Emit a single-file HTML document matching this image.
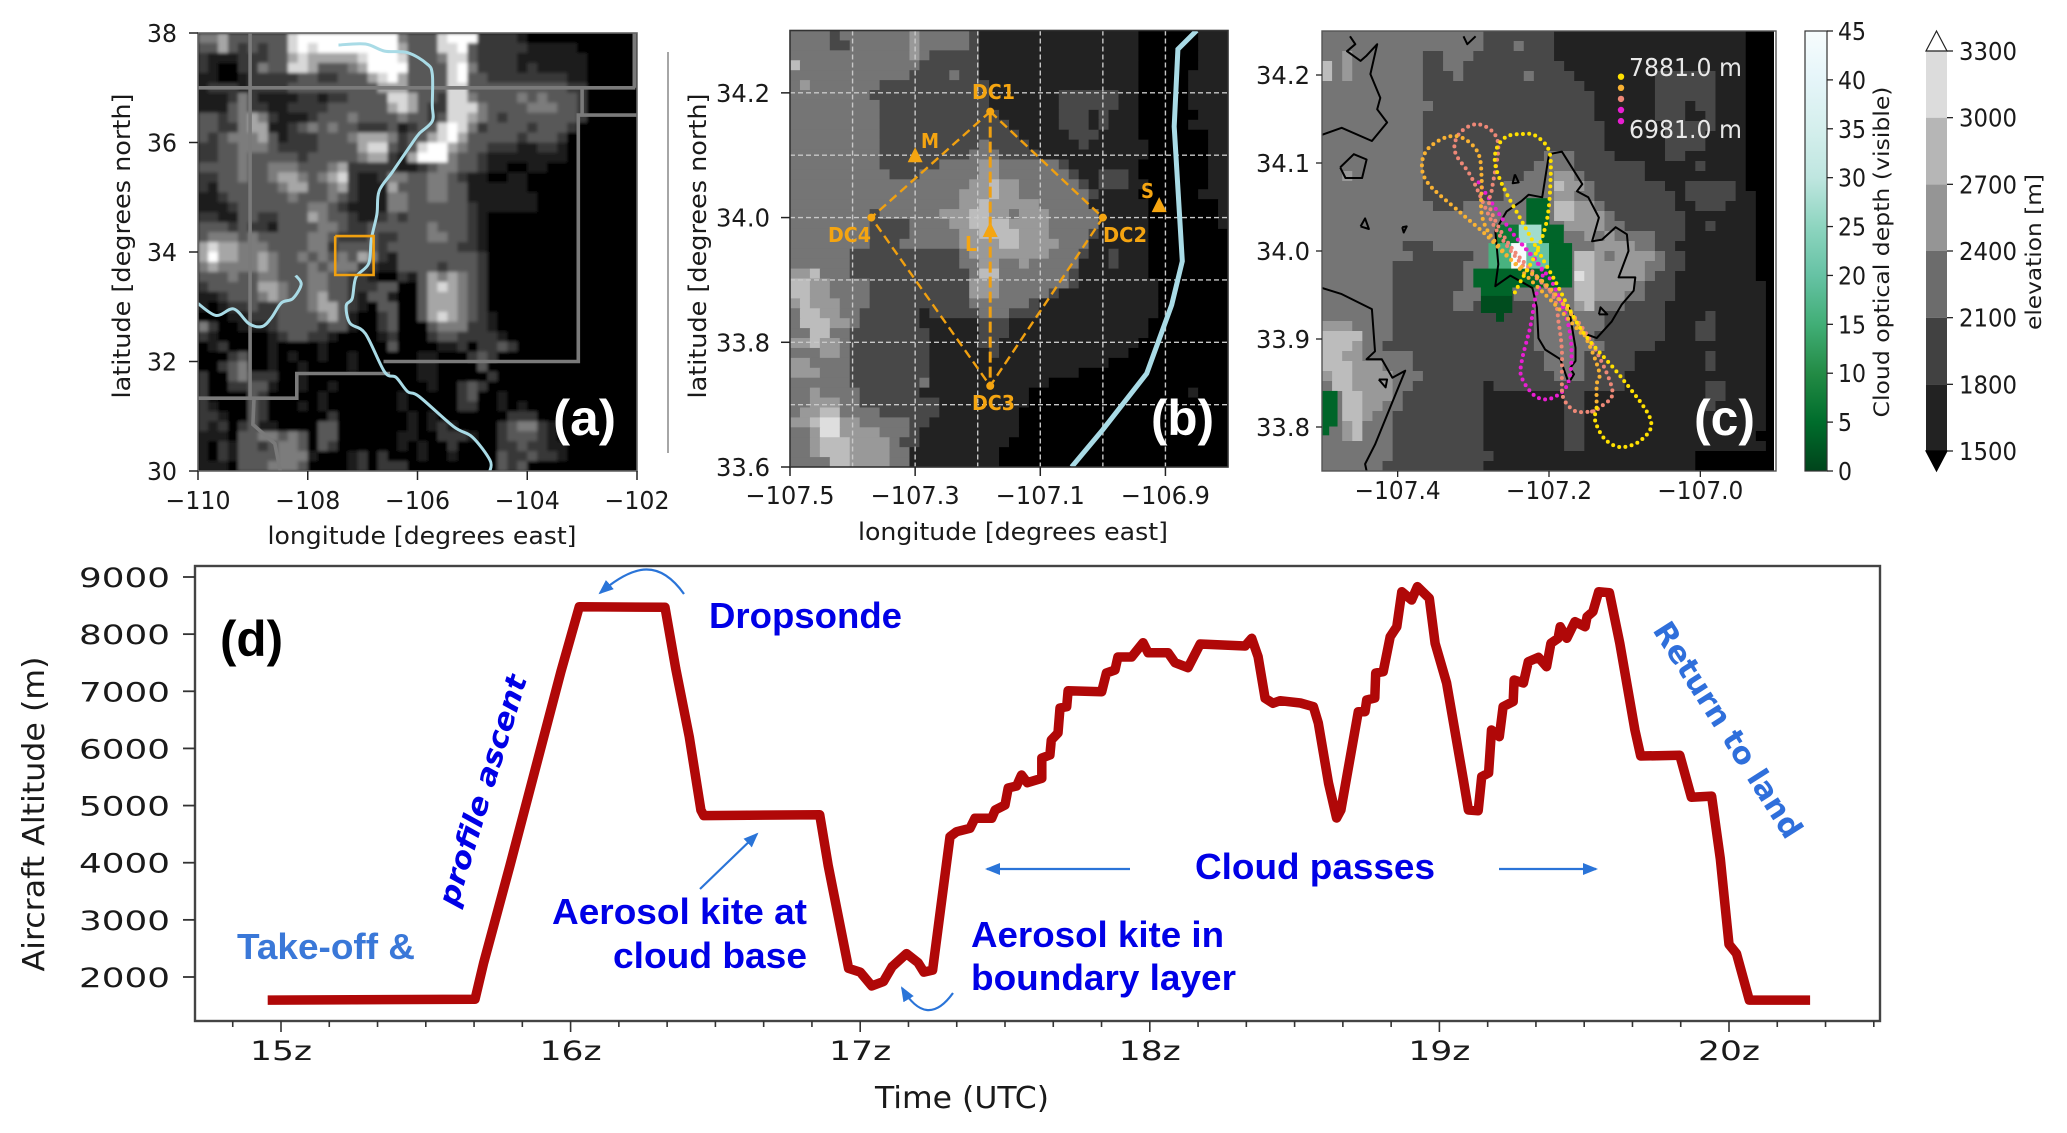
<!DOCTYPE html>
<html lang="en">
<head>
<meta charset="utf-8">
<title>Flight overview figure</title>
<style>
html,body{margin:0;padding:0;background:#fff;width:2067px;height:1133px;overflow:hidden}
svg{display:block}
text{font-family:"DejaVu Sans","Liberation Sans",sans-serif;fill:#1a1a1a}
.lib{font-family:"Liberation Sans",sans-serif;font-weight:bold}
</style>
</head>
<body>
<svg id="fig" xmlns="http://www.w3.org/2000/svg" width="2067" height="1133" viewBox="0 0 2067 1133">
  <defs>
    <clipPath id="clipA"><rect x="198" y="33" width="439" height="438"/></clipPath>
    <clipPath id="clipB"><rect x="790" y="30.5" width="438" height="436.5"/></clipPath>
    <clipPath id="clipC"><rect x="1322" y="31" width="454" height="440"/></clipPath>
    <filter id="soft" x="-5%" y="-5%" width="110%" height="110%"><feGaussianBlur stdDeviation="1.6"/></filter>
    <linearGradient id="cloudGrad" x1="0" y1="1" x2="0" y2="0">
      <stop offset="0" stop-color="#00441b"/><stop offset="0.111" stop-color="#006d2c"/>
      <stop offset="0.222" stop-color="#238b45"/><stop offset="0.333" stop-color="#41ae76"/>
      <stop offset="0.444" stop-color="#66c2a4"/><stop offset="0.556" stop-color="#8ed5c0"/>
      <stop offset="0.667" stop-color="#bfe6e0"/><stop offset="0.778" stop-color="#d5efed"/>
      <stop offset="0.889" stop-color="#e5f5f9"/><stop offset="1" stop-color="#f7fcfd"/>
    </linearGradient>
    <marker id="arrowBlue" markerWidth="16" markerHeight="14" refX="13" refY="6" orient="auto" markerUnits="userSpaceOnUse"><path d="M0,0 L15,6 L0,12 Z" fill="#2a74d8"/></marker>
  </defs>

  <g id="panelA"></g>
  <g id="panelB"></g>
  <g id="panelC"></g>
  <g id="bars"></g>
  <g id="panelD"></g>

  <line x1="668" y1="52" x2="668" y2="453" stroke="#888" stroke-width="1.5"/>

  <text x="422" y="544" text-anchor="middle" font-size="24" textLength="309" lengthAdjust="spacingAndGlyphs">longitude [degrees east]</text>
  <text transform="translate(130,246) rotate(-90)" text-anchor="middle" font-size="24" textLength="305" lengthAdjust="spacingAndGlyphs">latitude [degrees north]</text>
  <text x="1013" y="540" text-anchor="middle" font-size="24" textLength="310" lengthAdjust="spacingAndGlyphs">longitude [degrees east]</text>
  <text transform="translate(706,246) rotate(-90)" text-anchor="middle" font-size="24" textLength="305" lengthAdjust="spacingAndGlyphs">latitude [degrees north]</text>
  <text transform="translate(1889,252) rotate(-90)" text-anchor="middle" font-size="21" textLength="331" lengthAdjust="spacingAndGlyphs">Cloud optical depth (visible)</text>
  <text transform="translate(2041,252) rotate(-90)" text-anchor="middle" font-size="21" textLength="156" lengthAdjust="spacingAndGlyphs">elevation [m]</text>

  <text class="lib" x="553" y="435" font-size="50" style="fill:#fff" textLength="63" lengthAdjust="spacingAndGlyphs">(a)</text>
  <text class="lib" x="1151" y="435" font-size="50" style="fill:#fff" textLength="63" lengthAdjust="spacingAndGlyphs">(b)</text>
  <text class="lib" x="1694" y="435" font-size="50" style="fill:#fff" textLength="61" lengthAdjust="spacingAndGlyphs">(c)</text>

  <text transform="translate(44,814) rotate(-90)" text-anchor="middle" font-size="30" textLength="315" lengthAdjust="spacingAndGlyphs">Aircraft Altitude (m)</text>
  <text x="875" y="1108" font-size="30" textLength="174" lengthAdjust="spacingAndGlyphs">Time (UTC)</text>
  <text class="lib" x="220" y="656" font-size="50" style="fill:#000" textLength="63" lengthAdjust="spacingAndGlyphs">(d)</text>

  <text class="lib" x="709" y="628" font-size="36" style="fill:#0000e6" textLength="193" lengthAdjust="spacingAndGlyphs">Dropsonde</text>
  <text class="lib" x="237" y="959" font-size="36" style="fill:#3a78d8" textLength="178" lengthAdjust="spacingAndGlyphs">Take-off &amp;</text>
  <text class="lib" x="552" y="924" font-size="36" style="fill:#0000e6" textLength="255" lengthAdjust="spacingAndGlyphs">Aerosol kite at</text>
  <text class="lib" x="613" y="968" font-size="36" style="fill:#0000e6" textLength="194" lengthAdjust="spacingAndGlyphs">cloud base</text>
  <text class="lib" x="971" y="947" font-size="36" style="fill:#0000e6" textLength="253" lengthAdjust="spacingAndGlyphs">Aerosol kite in</text>
  <text class="lib" x="971" y="990" font-size="36" style="fill:#0000e6" textLength="265" lengthAdjust="spacingAndGlyphs">boundary layer</text>
  <text class="lib" x="1195" y="879" font-size="36" style="fill:#0000e6" textLength="240" lengthAdjust="spacingAndGlyphs">Cloud passes</text>
  <text transform="translate(457,908) rotate(-73)" font-size="29" font-weight="bold" font-style="italic" style="fill:#0000e6" textLength="240" lengthAdjust="spacingAndGlyphs">profile ascent</text>
  <text transform="translate(1652,630) rotate(57.5)" font-size="30" font-weight="bold" style="fill:#2f6fdb" textLength="250" lengthAdjust="spacingAndGlyphs">Return to land</text>

  <path d="M684,594 C660,560 635,563 600,593" fill="none" stroke="#2a74d8" stroke-width="2.2" marker-end="url(#arrowBlue)"/>
  <line x1="700" y1="889" x2="757" y2="834" stroke="#2a74d8" stroke-width="2.2" marker-end="url(#arrowBlue)"/>
  <path d="M953,993 C935,1018 918,1015 902,988" fill="none" stroke="#2a74d8" stroke-width="2.2" marker-end="url(#arrowBlue)"/>
  <line x1="1130" y1="869" x2="987" y2="869" stroke="#2a74d8" stroke-width="2.2" marker-end="url(#arrowBlue)"/>
  <line x1="1499" y1="869" x2="1596" y2="869" stroke="#2a74d8" stroke-width="2.2" marker-end="url(#arrowBlue)"/>
</svg>

<script>
/* ---------- chart data ---------- */
const flightHours = [14.954,15.67,15.70,15.79,15.967,16.03,16.326,16.363,16.41,16.45,16.46,16.86,16.89,16.96,17.0,17.04,17.08,17.11,17.16,17.2,17.22,17.25,
17.31,17.333,17.379,17.396,17.454,17.466,17.50,17.511,17.54,17.557,
17.577,17.627,17.627,17.655,17.66,17.683,17.69,17.713,17.718,17.834,
17.85,17.88,17.89,17.937,17.977,17.994,18.063,18.087,18.132,18.174,
18.329,18.352,18.374,18.398,18.425,18.45,18.52,18.565,18.582,18.617,
18.645,18.66,18.72,18.743,18.749,18.777,18.78,18.806,18.83,18.853,
18.87,18.904,18.924,18.965,18.985,19.025,19.083,19.10,19.134,19.146,
19.17,19.18,19.207,19.22,19.255,19.258,19.29,19.307,19.342,19.37,
19.385,19.41,19.417,19.44,19.468,19.503,19.51,19.53,19.55,19.587,
19.623,19.675,19.695,19.83,19.87,19.94,19.97,20.0,20.026,20.07,20.28];
const flightAltitude = [1596,1610,2250,3940,7350,8480,8470,7400,6200,4920,4825,4840,3940,2150,2085,1845,1920,2180,2410,2250,2085,2120,
4455,4543,4602,4777,4777,4922,5010,5307,5342,5535,
5400,5477,5830,5885,6148,6270,6708,6730,7010,6993,
7320,7372,7600,7600,7850,7675,7675,7500,7413,7828,
7793,7927,7605,6877,6790,6835,6795,6730,6445,5395,
4782,4922,6643,6643,6848,6883,7320,7342,7955,8130,
8743,8598,8830,8627,7840,7145,5448,4922,4910,5505,
5570,6322,6205,6730,6822,7198,7145,7518,7595,7430,
7840,7927,8130,7927,8218,8130,8305,8393,8743,8725,
7840,6322,5868,5880,5145,5165,4070,2570,2410,1595,1595];
const altitudeTicks = [2000,3000,4000,5000,6000,7000,8000,9000];
const hourTicks = [15,16,17,18,19,20];

const latTicksA = [30,32,34,36,38];
const lonTicksA = [-110,-108,-106,-104,-102];
const latTicksB = [33.6,33.8,34.0,34.2];
const lonTicksB = [-107.5,-107.3,-107.1,-106.9];
const gridLatB = [33.7,33.8,33.9,34.0,34.1,34.2];
const gridLonB = [-107.4,-107.3,-107.2,-107.1,-107.0,-106.9];
const latTicksC = [33.8,33.9,34.0,34.1,34.2];
const lonTicksC = [-107.4,-107.2,-107.0];
const cloudTicks = [0,5,10,15,20,25,30,35,40,45];
const elevationTicks = [1500,1800,2100,2400,2700,3000,3300];

const terrainA = [
"44533 33336 77777 77777 43336 77722 22100",
"33532 32336 76777 77777 53336 67322 22211 11100",
"21112 22335 65555 56777 63334 66322 22111 11110",
"21002 24336 65333 45777 73333 67422 22121 11110",
"11001 22222 33223 33567 53333 67332 22222 22110",
"12221 22223 33333 33355 53333 66333 33333 33220",
"11124 21111 22122 33336 65332 66433 33434 33320",
"11134 22112 22233 33335 65322 66643 33344 43320",
"33234 54211 12333 43333 43323 66543 23333 33320",
"33224 55112 34343 32223 12336 76423 33323 33200",
"32344 45312 22333 45554 23356 75333 33233 32000",
"22334 44322 22333 35663 23677 54332 22112 21000",
"22334 33333 23333 34552 15777 43321 11111 11000",
"33334 33444 33345 22222 11234 43321 10011",
"22334 33455 43456 21124 43344 32110 01100",
"21333 33345 53345 21115 33344 33111 11100",
"11233 33334 33343 21114 43344 33111 11110",
"11123 33333 34432 11114 43333 33211 11110",
"22113 32233 35433 21123 23333 33210",
"33323 22133 33443 22333 33343 33210",
"34443 43333 34432 22322 33344 33210",
"56554 44333 34423 33323 33333 32210",
"57554 45433 43434 35421 33333 33320",
"45444 45433 34344 42211 33332 33320",
"33343 34433 34433 22100 21354 54320",
"23333 35543 34433 22233 00356 54320",
"11233 34543 34533 21331 00355 54320",
"10122 32233 34553 21033 00355 54320",
"00011 22233 33453 10023 00356 54321",
"42001 11233 33233 10023 00034 44221",
"21000 00123 32210 00012 00023 32222 10000",
"01200 00100 00100 00003 00001 12022 32000",
"00023 00101 00100 10000 00110 00232",
"00234 00100 10000 10000 00110 00030",
"20034 22200 10000 00000 00110 00002",
"20022 33100 10010 00000 00010 02320",
"20000 32000 00100 00000 10000 02300 10000",
"21000 32000 10100 00000 10000 02200 10100",
"22100 32000 00020 00000 01010 00000 02220",
"21202 31100 00330 00000 01012 10000 23442 10000",
"11103 34434 30330 00000 11002 22100 23332 10000",
"10213 32344 30320 00000 10100 20000 22322 11000",
"10213 33344 41000 12020 00100 10000 32232 21000",
"11103 33444 30000 12022 20000 00000 32300"];

/* band changes across each row, written as startColumn:band */
const terrainB = [
"0:3 4:2 5:3 12:4 13:3 18:2 19:1 35:0 41:1","0:3 4:2 6:3 12:4 13:3 18:2 19:1 35:0 41:1","0:3 12:4 13:3 14:2 19:1 35:0 41:1","0:5 1:3 13:2 19:1 35:0 41:1",
"0:3 12:2 16:3 17:2 19:1 35:0 40:1","0:3 1:4 2:3 9:2 20:1 35:0 40:1","0:3 8:2 20:1 27:2 33:1 35:0 40:1","0:3 9:2 20:1 27:2 33:1 35:0 40:1",
"0:3 9:2 21:1 27:2 30:1 31:2 32:1 35:0 41:1","0:3 9:2 22:1 27:2 30:1 31:2 32:1 35:0 40:1","0:3 9:2 23:1 28:2 31:1 35:0 42:1","0:3 9:2 19:3 20:2 24:1 29:2 30:1 36:0 42:1",
"0:3 9:2 18:3 21:2 25:1 36:0 42:1","0:3 9:2 15:3 19:4 21:3 27:2 28:1 35:0 42:1","0:3 10:2 13:3 19:4 21:3 28:2 29:1 31:2 34:1 35:0 42:1","0:3 18:4 20:5 21:4 23:3 29:2 30:1 31:2 34:1 36:0 42:1",
"0:3 17:4 20:5 21:4 23:3 30:2 31:1 35:0 41:1","0:3 17:4 19:5 20:4 25:3 30:1 36:0 43:1","0:3 8:2 9:3 15:4 18:5 20:4 22:3 23:4 26:3 31:1 36:0 43:1","0:3 8:2 12:3 16:4 18:5 22:4 26:3 31:1 36:0 43:1",
"0:3 8:2 12:3 17:4 19:5 23:4 26:3 30:2 31:1 36:0","0:3 8:2 11:3 17:4 21:5 23:4 27:3 30:1 36:0","0:3 6:2 17:3 18:4 26:3 29:2 30:1 32:2 33:1 36:0","0:3 6:2 17:3 19:4 21:3 23:4 24:3 29:1 32:2 33:1 36:0",
"0:4 2:5 3:3 6:2 18:3 19:5 21:3 28:2 29:1 36:0","0:5 2:4 4:3 8:2 18:4 21:3 28:2 29:1 37:0","0:5 2:4 4:3 8:2 18:4 21:3 26:2 27:1 37:0","0:4 1:5 2:4 5:3 8:2 18:3 24:2 25:1 37:0",
"0:3 1:5 3:4 5:3 7:2 13:1 14:2 19:3 22:2 25:1 37:0","0:3 1:5 4:4 6:3 7:2 13:1 19:2 22:1 36:0","0:3 2:5 4:3 6:2 14:1 19:2 22:1 36:0","0:4 2:5 3:4 5:3 6:2 14:1 19:2 21:1 35:0",
"0:3 3:4 5:3 6:2 14:1 20:2 21:1 34:0","0:4 2:3 6:2 14:1 32:0","0:4 3:3 6:2 14:1 29:0","0:3 6:2 13:3 14:1 26:0",
"0:3 2:4 3:3 7:2 13:1 24:0 40:1 41:0","0:3 2:4 5:3 7:2 15:1 24:0","0:3 1:4 3:5 5:3 9:2 15:1 23:0","0:4 2:5 3:6 5:4 7:3 12:2 14:1 23:0",
"0:3 2:4 3:6 5:4 9:3 12:2 13:1 23:0","0:3 2:4 3:5 6:4 10:3 11:2 13:1 22:0","0:3 2:4 3:5 6:4 10:3 12:1 21:0","0:3 4:5 6:4 10:3 12:1 21:0"];
const terrainC = [
"0:3 16:2 23:1 42:0","0:3 16:2 19:3 20:2 23:1 42:0","0:3 2:4 3:3 10:2 12:3 15:2 23:1 42:0","0:5 1:3 2:4 3:3 10:2 12:3 14:2 24:1 42:0",
"0:5 1:3 2:4 3:3 10:2 13:3 14:2 20:3 21:2 25:1 33:2 39:1 42:0","0:3 10:2 26:1 33:2 39:1 42:0","0:3 10:2 27:1 33:2 39:1 42:0","0:3 11:2 27:1 33:2 36:1 37:2 39:1 42:0",
"0:3 10:2 27:1 33:2 36:1 38:2 39:1 42:0","0:3 10:2 28:1 34:2 39:1 42:0","0:3 10:2 28:1 34:2 38:1 42:0","0:3 10:2 28:1 34:2 38:1 42:0",
"0:3 10:2 22:3 25:2 29:1 34:2 36:1 42:0","0:3 10:2 21:3 25:2 32:1 37:2 38:1 42:0","0:3 2:4 3:3 10:2 20:3 23:4 25:3 26:2 32:1 42:0","0:3 10:2 18:3 23:5 24:4 26:3 27:2 34:1 36:2 41:1 42:0",
"0:3 10:2 18:3 23:4 25:3 27:2 35:1 36:2 41:1 43:0","0:3 11:2 14:3 23:5 25:4 27:3 28:2 35:1 37:2 40:1 43:0","0:3 23:5 25:4 28:3 29:2 36:1 43:0","0:3 24:4 28:3 30:2 36:1 38:2 39:1 43:0",
"0:3 26:4 27:3 28:4 29:3 33:2 36:1 43:0","0:3 8:2 11:3 27:4 31:3 33:2 35:1 43:0","0:3 9:2 15:3 25:5 27:4 28:3 29:4 33:3 34:2 36:1 43:0","0:3 7:2 14:3 25:5 27:4 32:3 34:2 36:1 43:0",
"0:3 7:2 14:3 25:6 26:5 27:4 32:3 33:2 35:1 43:0","0:3 7:2 14:3 25:5 27:4 31:3 32:2 35:1 44:0","0:3 7:2 13:3 16:2 19:3 25:5 27:4 30:3 32:2 35:1 44:0","0:3 7:2 13:3 15:2 21:3 25:4 26:5 27:3 30:2 34:1 44:0",
"0:3 7:2 21:3 28:2 34:1 38:2 39:1 44:0","0:4 3:3 7:2 21:3 28:2 34:1 37:2 39:1 44:0","0:5 4:3 7:2 21:3 27:2 34:1 37:2 39:1 44:0","0:5 3:4 4:3 6:2 21:3 28:2 33:1 44:0",
"0:5 2:4 4:3 9:2 22:3 26:2 31:1 38:2 39:1 44:0","0:5 3:4 6:3 9:2 22:3 26:2 31:1 38:2 39:1 44:0","0:4 1:5 3:4 7:3 10:2 23:3 26:2 30:1 44:0","0:3 1:5 3:4 7:3 9:2 16:1 17:2 30:1 38:2 40:1 44:0",
"0:3 2:5 4:4 7:3 8:2 16:1 24:2 26:1 38:2 40:1 44:0","0:3 2:5 4:4 6:3 8:2 16:1 24:2 26:1 38:2 39:1 44:0","0:3 2:5 4:4 5:3 7:2 16:1 24:2 26:1 44:0","0:3 2:4 3:5 4:3 7:2 16:1 24:2 26:1 44:0",
"0:3 2:4 3:5 4:3 7:2 16:1 24:2 26:1 43:0","0:3 7:2 16:1 24:2 26:1 44:0","0:3 7:2 17:1 37:0","0:3 6:2 16:1 37:0"];

/* cloud optical depth blocks: west lon, east lon, north lat, south lat, depth */
const cloudWest = [-107.23,-107.271,-107.24,-107.21,-107.28,-107.25,-107.23,-107.20,-107.30,-107.29,-107.29,-107.27,-107.5,-107.5];
const cloudEast = [-107.20,-107.24,-107.21,-107.181,-107.25,-107.23,-107.20,-107.17,-107.17,-107.249,-107.249,-107.26,-107.48,-107.491];
const cloudNorth = [34.06,34.03,34.03,34.03,34.009,34.009,34.009,34.009,33.98,33.959,33.949,33.93,33.841,33.801];
const cloudSouth = [34.03,34.009,34.009,34.009,33.98,33.98,33.98,33.98,33.959,33.949,33.93,33.92,33.801,33.791];
const cloudDepth = [4,7,27,4,16,45,20,4,4,4,1,1,4,4];

/* geographic line features, [lon, lat] */
const riverGrandeA = [[-107.44,37.78],[-106.95,37.80],[-106.6,37.67],[-106.18,37.64],[-105.83,37.44],[-105.73,37.25],[-105.73,36.68],[-105.73,36.39],[-105.97,36.16],[-106.11,35.97],[-106.46,35.46],[-106.70,35.11],[-106.74,34.69],[-106.84,34.24],[-106.89,33.79],[-107.12,33.54],[-107.19,33.15],[-107.30,33.02],[-107.23,32.70],[-106.95,32.51],[-106.60,31.81],[-106.39,31.71],[-106.18,31.45],[-105.97,31.36],[-105.34,30.81],[-105.0,30.62],[-104.68,30.2],[-104.68,30.0]];
const riverGilaA = [[-110,33.06],[-109.67,32.84],[-109.35,32.96],[-109.07,32.69],[-108.83,32.64],[-108.66,32.8],[-108.48,33.07],[-108.27,33.15],[-108.12,33.41],[-108.22,33.57]];
const stateBorders = [
 [[-110,37],[-102.03,37]],[[-109.05,38],[-109.05,31.33]],[[-110,31.33],[-108.2,31.33],[-108.2,31.78],[-106.5,31.78]],
 [[-106.62,32],[-103.07,32],[-103.07,36.5],[-102,36.5]],[[-103,36.5],[-103,37]],[[-102.05,37],[-102.05,38]],
 [[-108.98,31.33],[-109,30.85],[-108.6,30.5],[-108.5,30]]];
const studyBox = [[-107.5,34.29],[-106.8,34.29],[-106.8,33.58],[-107.5,33.58],[-107.5,34.29]];

const riverB = [[-106.85,34.3],[-106.88,34.27],[-106.886,34.146],[-106.873,33.93],[-106.89,33.86],[-106.93,33.75],[-107.0,33.66],[-107.05,33.6]];
const dcPoints = [[-107.18,34.17],[-107.0,34.0],[-107.18,33.73],[-107.37,34.0]];
const siteNames = ["M","S","L"];
const siteLocations = [[-107.3,34.1],[-106.91,34.02],[-107.18,33.98]];

const contourMain = [[-107.200,34.110],[-107.183,34.113],[-107.172,34.098],[-107.156,34.076],[-107.163,34.068],[-107.148,34.061],[-107.134,34.038],[-107.143,34.011],[-107.130,34.013],[-107.112,34.027],[-107.097,34.019],[-107.095,34.0],[-107.108,33.970],[-107.086,33.970],[-107.088,33.955],[-107.104,33.939],[-107.117,33.92],[-107.137,33.901],[-107.156,33.907],[-107.174,33.936],[-107.165,33.89],[-107.165,33.875],[-107.172,33.867],[-107.167,33.86],[-107.174,33.85],[-107.185,33.877],[-107.205,33.888],[-107.214,33.901],[-107.216,33.936],[-107.222,33.958],[-107.251,33.972],[-107.271,33.96],[-107.267,33.985],[-107.271,34.023],[-107.256,34.045],[-107.236,34.057],[-107.227,34.064],[-107.209,34.061],[-107.200,34.110]];
const contourUpperLeft = [[-107.5,34.132],[-107.474,34.14],[-107.434,34.125],[-107.414,34.146],[-107.427,34.161],[-107.423,34.174],[-107.436,34.201],[-107.427,34.235],[-107.441,34.222],[-107.449,34.216],[-107.467,34.227],[-107.456,34.235],[-107.463,34.244]];
const contourLowerLeft = [[-107.5,33.958],[-107.474,33.951],[-107.434,33.934],[-107.43,33.886],[-107.441,33.877],[-107.421,33.877],[-107.407,33.856],[-107.39,33.864],[-107.41,33.822],[-107.43,33.78],[-107.443,33.758],[-107.441,33.75]];
const contourLoop1 = [[-107.476,34.095],[-107.458,34.11],[-107.441,34.104],[-107.447,34.083],[-107.469,34.083],[-107.476,34.095]];
const contourLoop2 = [[-107.449,34.028],[-107.443,34.037],[-107.438,34.025],[-107.449,34.028]];
const contourLoop3 = [[-107.394,34.027],[-107.388,34.028],[-107.392,34.021],[-107.394,34.027]];
const contourLoop4 = [[-107.245,34.087],[-107.24,34.078],[-107.248,34.077],[-107.245,34.087]];
const contourLoop5 = [[-107.134,33.928],[-107.123,33.928],[-107.132,33.936],[-107.134,33.928]];
const contourLoop6 = [[-107.425,33.854],[-107.414,33.854],[-107.416,33.845],[-107.425,33.854]];
const contourTop = [[-107.313,34.244],[-107.308,34.235],[-107.297,34.244]];

const trackYellow = [[-107.245,33.953],[-107.236,33.968],[-107.218,33.996],[-107.203,34.034],[-107.198,34.08],[-107.2,34.114],[-107.218,34.131],[-107.236,34.133],[-107.256,34.13],[-107.269,34.117],[-107.271,34.098],[-107.26,34.072],[-107.236,34.034],[-107.209,33.992],[-107.192,33.966],[-107.156,33.909],[-107.104,33.856],[-107.066,33.809],[-107.077,33.786],[-107.104,33.777],[-107.126,33.786],[-107.139,33.807],[-107.137,33.822]];
const trackGold = [[-107.137,33.822],[-107.137,33.848],[-107.134,33.864],[-107.156,33.909],[-107.192,33.951],[-107.218,33.972],[-107.249,33.989],[-107.284,34.019],[-107.319,34.045],[-107.359,34.076],[-107.368,34.098],[-107.359,34.117],[-107.333,34.13],[-107.311,34.127],[-107.293,34.11],[-107.289,34.08],[-107.289,34.042],[-107.275,34.015],[-107.24,33.981],[-107.192,33.939],[-107.156,33.905]];
const trackSalmon = [[-107.141,33.818],[-107.165,33.818],[-107.181,33.833],[-107.183,33.856],[-107.183,33.886],[-107.187,33.917],[-107.196,33.951],[-107.236,33.985],[-107.271,34.026],[-107.302,34.083],[-107.324,34.112],[-107.319,34.133],[-107.297,34.144],[-107.275,34.136],[-107.267,34.117],[-107.275,34.072],[-107.278,34.049],[-107.253,34.008],[-107.218,33.973],[-107.156,33.913],[-107.117,33.845],[-107.13,33.824],[-107.148,33.816]];
const trackMagenta = [[-107.293,34.078],[-107.253,34.026],[-107.218,33.989],[-107.192,33.958],[-107.172,33.905],[-107.174,33.852],[-107.196,33.833],[-107.218,33.835],[-107.236,33.856],[-107.236,33.875],[-107.225,33.913],[-107.218,33.947],[-107.209,33.977],[-107.236,34.008]];

/* ---------- axis functions ---------- */
const xA = lon => 198 + (lon + 110) * 439 / 8;
const yA = lat => 33 + (38 - lat) * 438 / 8;
const xB = lon => 790 + (lon + 107.5) * 438 / 0.7;
const yB = lat => 30.5 + (34.3 - lat) * 436.5 / 0.7;
const xC = lon => 1322 + (lon + 107.5) * 454 / 0.6;
const yC = lat => 31 + (34.25 - lat) * 440 / 0.5;
const xD = h => 281 + (h - 15) * 289.6;
const yD = a => 977 - (a - 2000) * 400 / 7000;
const yCloud = v => 471 - v * 440 / 45;
const yElev = e => 451 - (e - 1500) * 400 / 1800;

/* ---------- helpers ---------- */
const NS = "http://www.w3.org/2000/svg";
function el(parent, tag, attrs) {
  const n = document.createElementNS(NS, tag);
  for (const k in attrs) n.setAttribute(k, attrs[k]);
  parent.appendChild(n);
  return n;
}
function label(parent, x, y, str, size, anchor, len) {
  const n = el(parent, "text", {x: x, y: y, "font-size": size, "text-anchor": anchor});
  if (len) { n.setAttribute("textLength", len); n.setAttribute("lengthAdjust", "spacingAndGlyphs"); }
  n.textContent = str;
  return n;
}
const minus = (v, d) => (v < 0 ? "\u2212" : "") + Math.abs(v).toFixed(d);
const levelGray = ["#000000","#222222","#484848","#757575","#999999","#bcbcbc","#dedede","#ffffff"];
const regionalGray = ["#000000","#1c1c1c","#383838","#585858","#7c7c7c","#a6a6a6","#d8d8d8","#ffffff"];
const cloudRamp = [[0,68,27],[0,109,44],[35,139,69],[65,174,118],[102,194,164],[142,213,192],[191,230,224],[213,239,237],[229,245,249],[247,252,253]];
function cloudColor(v) {
  const t = Math.min(v / 5, 8.999), i = Math.floor(t), f = t - i;
  const mix = k => Math.round(cloudRamp[i][k] + (cloudRamp[i + 1][k] - cloudRamp[i][k]) * f);
  return "rgb(" + mix(0) + "," + mix(1) + "," + mix(2) + ")";
}
function groupedRow(s, cols) {
  return s.replace(/ /g, "").padEnd(cols, "0");
}
function breakRow(s, cols) {
  const out = new Array(cols).fill("0");
  s.split(" ").forEach(tok => {
    const [start, lev] = tok.split(":");
    for (let i = +start; i < cols; i++) out[i] = lev;
  });
  return out.join("");
}
function terrain(parent, rows, x0, y0, w, h, palette) {
  const cw = w / rows[0].length, ch = h / rows.length;
  rows.forEach((row, r) => {
    let start = 0;
    for (let i = 1; i <= row.length; i++) {
      if (i === row.length || row[i] !== row[start]) {
        const cell = el(parent, "rect", {x: x0 + start * cw, y: y0 + r * ch, width: (i - start) * cw + 0.6, height: ch + 0.6, fill: palette[+row[start]]});
        
        
        start = i;
      }
    }
  });
}
function polyPath(pts, fx, fy) {
  return pts.map((p, i) => (i ? "L" : "M") + fx(p[0]).toFixed(1) + "," + fy(p[1]).toFixed(1)).join(" ");
}
function smoothPath(pts, fx, fy) {
  const P = pts.map(p => [fx(p[0]), fy(p[1])]);
  let d = "M" + P[0][0].toFixed(1) + "," + P[0][1].toFixed(1);
  for (let i = 0; i < P.length - 1; i++) {
    const a = P[Math.max(i - 1, 0)], b = P[i], c = P[i + 1], e = P[Math.min(i + 2, P.length - 1)];
    d += " C" + (b[0] + (c[0] - a[0]) / 6).toFixed(1) + "," + (b[1] + (c[1] - a[1]) / 6).toFixed(1) + " " +
         (c[0] - (e[0] - b[0]) / 6).toFixed(1) + "," + (c[1] - (e[1] - b[1]) / 6).toFixed(1) + " " +
         c[0].toFixed(1) + "," + c[1].toFixed(1);
  }
  return d;
}

/* ---------- panel a ---------- */
const A = document.getElementById("panelA");
const gA = el(A, "g", {"clip-path": "url(#clipA)"});


el(gA, "rect", {x: 198, y: 33, width: 439, height: 438, fill: "#000"});
const tA = el(gA, "g", {filter: "url(#soft)"});


terrain(tA, terrainA.map(r => groupedRow(r, 44)), 198, 33, 439, 438, regionalGray);
stateBorders.forEach(line => {
  const b = el(gA, "path", {d: polyPath(line, xA, yA), fill: "none", stroke: "#7a7a7a", "stroke-width": 3.6});
  
  
});
[riverGrandeA, riverGilaA].forEach(line => {
  const b = el(gA, "path", {d: smoothPath(line, xA, yA), fill: "none", stroke: "#a9dbe6", "stroke-width": 3});
  
  
});
const boxA = el(gA, "path", {d: polyPath(studyBox, xA, yA), fill: "none", stroke: "#f0a010", "stroke-width": 2.6});


const frameA = el(A, "rect", {x: 198, y: 33, width: 439, height: 438, fill: "none", stroke: "#666", "stroke-width": 1.6});


latTicksA.forEach(v => {
  const t = el(A, "line", {x1: 189, x2: 198, y1: yA(v), y2: yA(v), stroke: "#222", "stroke-width": 1.5});
  
  
  const s = label(A, 177, yA(v) + 9, String(v), 25, "end", 30);
  
  
});
lonTicksA.forEach(v => {
  const t = el(A, "line", {x1: xA(v), x2: xA(v), y1: 471, y2: 480, stroke: "#222", "stroke-width": 1.5});
  
  
  const s = label(A, xA(v), 509, minus(v, 0), 25, "middle", 65);
  
  
});

/* ---------- panel b ---------- */
const B = document.getElementById("panelB");
const gB = el(B, "g", {"clip-path": "url(#clipB)"});


terrain(gB, terrainB.map(r => breakRow(r, 44)), 790, 30.5, 438, 436.5, levelGray);
gridLatB.forEach(v => {
  const g = el(gB, "line", {x1: 790, x2: 1228, y1: yB(v), y2: yB(v), stroke: "#c8c8c8", "stroke-width": 1.4, "stroke-dasharray": "5 3"});
  
  
});
gridLonB.forEach(v => {
  const g = el(gB, "line", {x1: xB(v), x2: xB(v), y1: 30.5, y2: 467, stroke: "#c8c8c8", "stroke-width": 1.4, "stroke-dasharray": "5 3"});
  
  
});
const rB = el(gB, "path", {d: polyPath(riverB, xB, yB), fill: "none", stroke: "#a9dbe6", "stroke-width": 5});


const diamond = el(gB, "path", {d: polyPath(dcPoints.concat([dcPoints[0]]), xB, yB), fill: "none", stroke: "#f0a010", "stroke-width": 2.4, "stroke-dasharray": "9 5"});


const spine = el(gB, "path", {d: polyPath([dcPoints[0], dcPoints[2]], xB, yB), fill: "none", stroke: "#f0a010", "stroke-width": 3, "stroke-dasharray": "11 4"});


dcPoints.forEach(p => {
  const c = el(gB, "circle", {cx: xB(p[0]), cy: yB(p[1]), r: 4, fill: "#f5a511"});
  
  
});
siteLocations.forEach(p => {
  const x = xB(p[0]), y = yB(p[1]);
  const t = el(gB, "path", {d: "M" + x + "," + (y - 8) + " l7.5,15 l-15,0 Z", fill: "#f5a511"});
  
  
});
const orangeLabels = [["DC1",972,99,43],["DC2",1103,242,44],["DC3",972,410,43],["DC4",828,242,43],[siteNames[0],921,148,18],[siteNames[1],1141,198,13],[siteNames[2],965,251,12]];
orangeLabels.forEach(d => {
  const s = label(B, d[1], d[2], d[0], 20, "start", d[3]);
  s.setAttribute("font-weight", "bold");
  s.style.fill = "#f5a511";
  
  
});
const frameB = el(B, "rect", {x: 790, y: 30.5, width: 438, height: 436.5, fill: "none", stroke: "#333", "stroke-width": 1.6});


latTicksB.forEach(v => {
  const t = el(B, "line", {x1: 781, x2: 790, y1: yB(v), y2: yB(v), stroke: "#222", "stroke-width": 1.5});
  
  
  const s = label(B, 770, yB(v) + 9, v.toFixed(1), 25, "end", 54);
  
  
});
lonTicksB.forEach(v => {
  const t = el(B, "line", {x1: xB(v), x2: xB(v), y1: 467, y2: 476, stroke: "#222", "stroke-width": 1.5});
  
  
  const s = label(B, xB(v), 504, minus(v, 1), 25, "middle", 89);
  
  
});

/* ---------- panel c ---------- */
const C = document.getElementById("panelC");
const gC = el(C, "g", {"clip-path": "url(#clipC)"});


terrain(gC, terrainC.map(r => breakRow(r, 45)), 1322, 31, 454, 440, levelGray);
cloudDepth.forEach((v, i) => {
  const cell = el(gC, "rect", {x: xC(cloudWest[i]), y: yC(cloudNorth[i]), width: xC(cloudEast[i]) - xC(cloudWest[i]) + 0.4, height: yC(cloudSouth[i]) - yC(cloudNorth[i]) + 0.4, fill: cloudColor(v)});
  
  
});
[contourMain, contourUpperLeft, contourLowerLeft, contourLoop1, contourLoop2, contourLoop3, contourLoop4, contourLoop5, contourLoop6, contourTop].forEach(line => {
  const p = el(gC, "path", {d: polyPath(line, xC, yC), fill: "none", stroke: "#000", "stroke-width": 2, "stroke-linejoin": "round"});
  
  
});
const trackList = [[trackMagenta, "#e81ed2"], [trackSalmon, "#ee8877"], [trackGold, "#f9b233"], [trackYellow, "#ffe000"]];
trackList.forEach(t => {
  const p = el(gC, "path", {d: smoothPath(t[0], xC, yC), fill: "none", stroke: t[1], "stroke-width": 4, "stroke-linecap": "round", "stroke-dasharray": "0 6.3"});
  
  
});
const legendColors = ["#ffe000","#f9b233","#ee8877","#e81ed2","#e81ed2"];
legendColors.forEach((col, i) => {
  const d = el(gC, "circle", {cx: 1621, cy: 76.7 + i * 11.1, r: 3.2, fill: col});
  
  
});
const legendTop = label(gC, 1629, 76, "7881.0 m", 25, "start", 113);
legendTop.style.fill = "#e8e8e8";


const legendBottom = label(gC, 1629, 138, "6981.0 m", 25, "start", 113);
legendBottom.style.fill = "#e8e8e8";


const edgeC = el(gC, "rect", {x: 1774, y: 31, width: 2, height: 440, fill: "#fff"});


const frameC = el(C, "rect", {x: 1322, y: 31, width: 454, height: 440, fill: "none", stroke: "#555", "stroke-width": 1.4});


latTicksC.forEach(v => {
  const t = el(C, "line", {x1: 1316, x2: 1322, y1: yC(v), y2: yC(v), stroke: "#222", "stroke-width": 1.3});
  
  
  const s = label(C, 1310, yC(v) + 9, v.toFixed(1), 25, "end", 54);
  
  
});
lonTicksC.forEach(v => {
  const t = el(C, "line", {x1: xC(v), x2: xC(v), y1: 471, y2: 477, stroke: "#222", "stroke-width": 1.3});
  
  
  const s = label(C, xC(v), 499, minus(v, 1), 25, "middle", 86);
  
  
});

/* ---------- colorbars ---------- */
const Bars = document.getElementById("bars");
const cb = el(Bars, "rect", {x: 1805, y: 31, width: 22, height: 440, fill: "url(#cloudGrad)", stroke: "#333", "stroke-width": 1.2});


cloudTicks.forEach(v => {
  const t = el(Bars, "line", {x1: 1827, x2: 1833, y1: yCloud(v), y2: yCloud(v), stroke: "#222", "stroke-width": 1.3});
  
  
  const s = label(Bars, 1838, yCloud(v) + 9, String(v), 25, "start", v <= 5 ? 14 : 28);
  
  
});
const bandGray = ["#222222","#414141","#6c6c6c","#959595","#b6b6b6","#dcdcdc"];
elevationTicks.slice(0, -1).forEach((v, i) => {
  const r = el(Bars, "rect", {x: 1926, y: yElev(elevationTicks[i + 1]), width: 21, height: yElev(v) - yElev(elevationTicks[i + 1]), fill: bandGray[i]});
  
  
});
const topTri = el(Bars, "path", {d: "M1926,51 L1936.5,31 L1947,51 Z", fill: "#fff", stroke: "#222", "stroke-width": 1.2});


const botTri = el(Bars, "path", {d: "M1926,451 L1936.5,471 L1947,451 Z", fill: "#000", stroke: "#000", "stroke-width": 1.2});


elevationTicks.forEach(v => {
  const t = el(Bars, "line", {x1: 1947, x2: 1953, y1: yElev(v), y2: yElev(v), stroke: "#222", "stroke-width": 1.3});
  
  
  const s = label(Bars, 1959, yElev(v) + 9, String(v), 25, "start", 58);
  
  
});

/* ---------- panel d ---------- */
const D = document.getElementById("panelD");
const frameD = el(D, "rect", {x: 195, y: 566, width: 1685, height: 455, fill: "#fff", stroke: "#444", "stroke-width": 2.4});


altitudeTicks.forEach(v => {
  const t = el(D, "line", {x1: 183, x2: 195, y1: yD(v), y2: yD(v), stroke: "#333", "stroke-width": 1.8});
  
  
  const s = label(D, 170, yD(v) + 10, String(v), 27, "end", 91);
  
  
});
for (let m = -1; m <= 33; m++) {
  const h = 15 + m / 6;
  const major = m % 6 === 0;
  const t = el(D, "line", {x1: xD(h), x2: xD(h), y1: 1021, y2: major ? 1032 : 1027, stroke: "#333", "stroke-width": 1.6});
  
  
}
hourTicks.forEach(h => {
  const s = label(D, xD(h), 1060, h + "z", 27, "middle", 62);
  
  
});
const flightPts = flightHours.map((h, i) => [h, flightAltitude[i]]);
const flightLine = el(D, "path", {d: polyPath(flightPts, xD, yD), fill: "none", stroke: "#b00808", "stroke-width": 9.5, "stroke-linejoin": "round"});


</script>
</body>
</html>
